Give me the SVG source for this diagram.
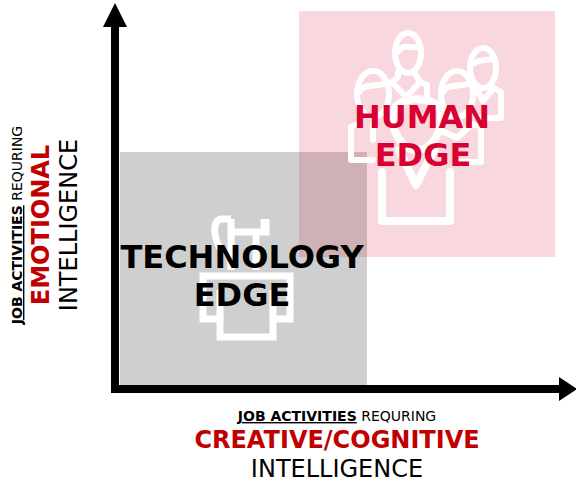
<svg xmlns="http://www.w3.org/2000/svg" width="576" height="485" viewBox="0 0 576 485">
<style>
text{font-family:"DejaVu Sans","Liberation Sans",sans-serif;text-anchor:middle}
.b{font-weight:bold}
.red{fill:#c00000;font-weight:bold}
.ic{fill:none;stroke:#fff;stroke-linejoin:round;stroke-linecap:round}
</style>
<rect width="576" height="485" fill="#fff"/>
<g id="technology-edge">
<rect x="120" y="152" width="247" height="235" fill="#cfcfcf"/>
<g class="ic" stroke-width="7" style="stroke-linecap:butt;stroke-linejoin:miter">
<path d="M231 219H222C211 219 213 241 224 254M231 219V232H266V219M264 219V233M231 232V270M256 232V270"/>
<path d="M203 276H290V319H273V337H220V319H203Z"/>
<path d="M220 290V319M273 290V319"/>
</g>
</g>
<g id="human-edge">
<rect x="299" y="11" width="256" height="246" fill="#f8d7de"/>
<rect x="299" y="152" width="68" height="105" fill="#ceb0b5"/>
<g class="ic" stroke-width="6">
<ellipse cx="408" cy="53" rx="13" ry="20"/><path d="M398 52C404 42 410 50 419 46"/>
<path d="M398 72V77L392 82L406 97L420 82L414 72"/><path d="M420 82L427 85V100"/>
<ellipse cx="483" cy="68" rx="13" ry="20"/><path d="M473 64C480 58 486 62 494 58"/>
<path d="M476 88L483 101L494 88L501 92V118H478"/>
<ellipse cx="373" cy="94" rx="16" ry="23"/><path d="M359 92C366 82 374 88 387 83"/>
<path d="M351 127V160H373M351 127L358 124M375 116L373 125L373 140"/>
<ellipse cx="457" cy="94" rx="16" ry="23"/><path d="M443 92C450 82 458 88 472 83"/>
<path d="M481 127V162H460M481 127L472 124M440 130L457 138L472 124"/>
</g>
<g class="ic" stroke-width="8">
<path d="M393 112C396 95 438 95 441 112C444 130 432 150 417 150C402 150 390 130 393 112Z"/>
<path d="M399 150L416 185L434 150"/>
<path d="M382 172V221H450V172"/>
</g>
</g>
<g id="connectors">
<path d="M115 392V26" stroke="#000" stroke-width="8" fill="none"/>
<path d="M115 3L127 27H103Z" fill="#000"/>
<path d="M111 389H560" stroke="#000" stroke-width="8" fill="none"/>
<path d="M559 377L577 389L559 401Z" fill="#000"/>
</g>
<g id="human-label" fill="#d80032" class="b">
<text x="422" y="128" font-size="32" fill="#d90032" class="b">HUMAN</text>
<text x="423" y="166" font-size="32" fill="#d90032" class="b">EDGE</text>
</g>
<g id="tech-label">
<text x="242" y="268" font-size="32" class="b">TECHNOLOGY</text>
<text x="242" y="306" font-size="32" class="b">EDGE</text>
</g>
<g id="x-axis-label">
<text x="337" y="421" font-size="14"><tspan class="b" text-decoration="underline">JOB ACTIVITIES</tspan> REQURING</text>
<text x="337" y="448" font-size="24" class="red">CREATIVE/COGNITIVE</text>
<text x="337" y="477" font-size="24">INTELLIGENCE</text>
</g>
<g id="y-axis-label">
<text transform="translate(22 225) rotate(-90)" font-size="14"><tspan class="b" text-decoration="underline">JOB ACTIVITIES</tspan> REQURING</text>
<text transform="translate(49 225) rotate(-90)" font-size="24" class="red">EMOTIONAL</text>
<text transform="translate(77 225) rotate(-90)" font-size="24">INTELLIGENCE</text>
</g>
</svg>
